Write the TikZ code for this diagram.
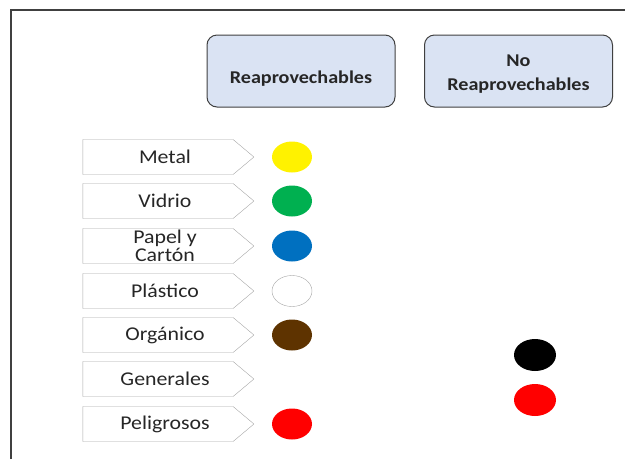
\documentclass[tikz,border=0pt]{standalone}
\usepackage{fontspec}
\setmainfont{Carlito}[FakeStretch=1.12]
\usepackage{tikz}
\usetikzlibrary{shapes.symbols,shapes.geometric}
\definecolor{headblue}{HTML}{DAE3F3}
\definecolor{headline}{HTML}{404040}
\definecolor{tagline}{HTML}{A6A6A6}
\definecolor{txtgray}{HTML}{262626}
\definecolor{cgreen}{HTML}{00B050}
\definecolor{cblue}{HTML}{0070C0}
\definecolor{cbrown}{HTML}{5E3300}

\begin{document}
\begin{tikzpicture}[x=1pt,y=-1pt,
  header/.style={draw=headline,fill=headblue,line width=1pt,rounded corners=10pt,
    minimum width=188pt,minimum height=72pt},
  headtext/.style={align=center,text=txtgray,inner sep=0pt,
    font=\fontsize{18}{24}\selectfont\bfseries},
  tagbox/.style={shape=signal,signal to=east,signal pointer angle=80,draw=tagline,
    minimum width=171pt,minimum height=35pt,inner sep=0pt,
    label={[tagtext]center:#1}},
  tagtext/.style={align=center,text=txtgray,inner sep=0pt,xshift=7pt,
    font=\fontsize{19.5}{18}\selectfont},
  dot/.style={ellipse,minimum width=40pt,minimum height=31pt,inner sep=0pt}]
\useasboundingbox (0,0) rectangle (625,459);
\draw[headline,line width=2pt] (11,459)--(11,10)--(625,10);

\node[header,label={[headtext,yshift=-8pt]center:Reaprovechables}] (reap) at (301,71) {};
\node[header,label={[headtext,yshift=-3pt]center:No\\Reaprovechables}] (noreap) at (518.5,71) {};

\node[tagbox=Metal] (metal) at (158,157) {};
\node[tagbox=Vidrio] (vidrio) at (158,201) {};
\node[tagbox={Papel y\\Cartón}] (papel) at (158,246) {};
\node[tagbox=Plástico] (plastico) at (158,291) {};
\node[tagbox=Orgánico] (organico) at (158,335) {};
\node[tagbox=Generales] (generales) at (158,379) {};
\node[tagbox=Peligrosos] (peligrosos) at (158,424) {};

\node[dot,fill=yellow] (cmetal) at (292,157) {};
\node[dot,fill=cgreen] (cvidrio) at (292,201) {};
\node[dot,fill=cblue] (cpapel) at (292,246) {};
\node[dot,fill=white,draw=tagline] (cplastico) at (292,291) {};
\node[dot,fill=cbrown] (corganico) at (292,335) {};
\node[dot,fill=red] (cpeligrosos) at (292,424) {};

\node[dot,fill=black,minimum width=42pt,minimum height=32pt] (cnegro) at (535,355) {};
\node[dot,fill=red,minimum width=42pt,minimum height=32pt] (crojo) at (535,400) {};
\end{tikzpicture}
\end{document}
